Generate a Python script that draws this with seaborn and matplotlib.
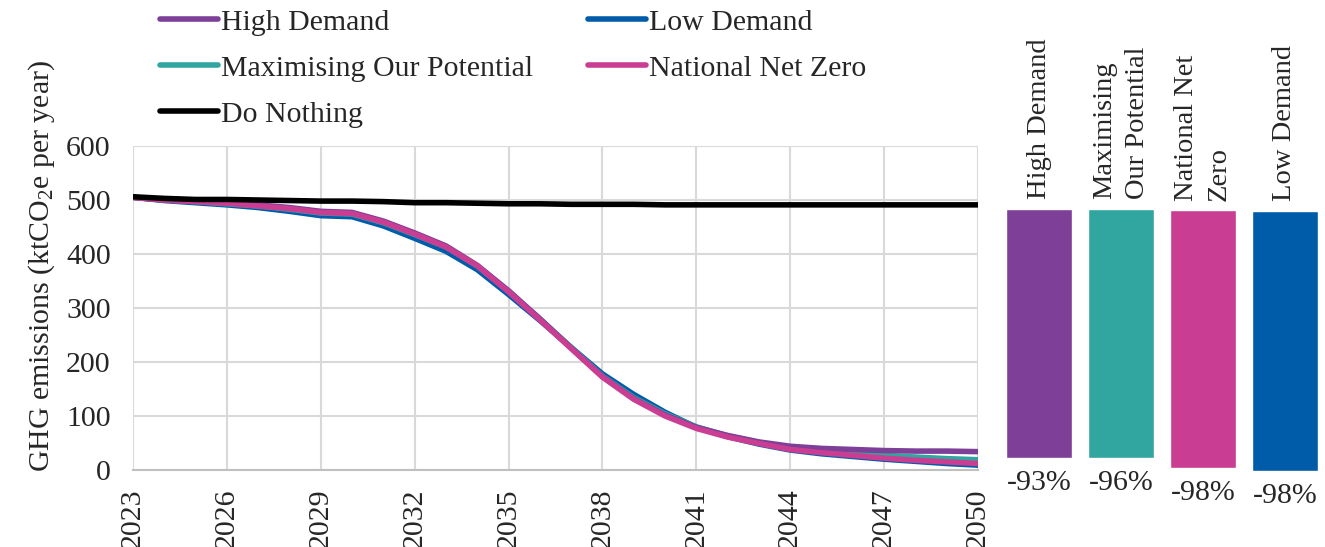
import pandas as pd
import matplotlib.pyplot as plt
import seaborn as sns

# data
years = list(range(2023, 2051))
high_demand = [505, 500, 498, 495, 491, 486, 479, 477, 461, 439, 415, 379, 332, 280,
               226, 173, 132, 102, 79, 64, 52, 44, 40, 38, 36, 35, 35, 34]
low_demand = [505, 499, 495, 491, 486, 479, 471, 469, 452, 429, 405, 371, 325, 277,
              227, 178, 140, 107, 79, 62, 48, 37, 30, 25, 20, 16, 12, 9]
max_potential = [505, 500, 497, 493, 489, 483, 476, 474, 458, 436, 413, 378, 331, 280,
                 227, 174, 134, 104, 80, 63, 51, 41, 36, 31, 27, 24, 21, 19]
net_zero = [505, 500, 497, 494, 489, 484, 477, 475, 459, 437, 413, 378, 330, 278,
            225, 172, 131, 100, 77, 61, 49, 38, 32, 27, 22, 18, 15, 12]
do_nothing = [506, 503, 501, 501, 500, 499, 498, 498, 497, 495, 495, 494, 493, 493,
              492, 492, 492, 491, 491, 491, 491, 491, 491, 491, 491, 491, 491, 491]

bar_names = ['High Demand', 'Maximising\nOur Potential', 'National Net\nZero', 'Low Demand']
bar_top = [483, 483, 481, 480]
bar_bottom = [23, 23, 4, -1]
bar_pct = ['-93%', '-96%', '-98%', '-98%']

colors = {'High Demand': '#7d3f98', 'Low Demand': '#005ca9',
          'Maximising Our Potential': '#31a59f', 'National Net Zero': '#c93e92',
          'Do Nothing': '#000000'}

df = pd.DataFrame({'Year': years, 'High Demand': high_demand, 'Low Demand': low_demand,
                   'Maximising Our Potential': max_potential,
                   'National Net Zero': net_zero, 'Do Nothing': do_nothing})
long = df.melt(id_vars='Year', var_name='Scenario', value_name='Emissions')

sns.set_style('white')
plt.rcParams['font.family'] = ['Liberation Serif', 'DejaVu Serif']
plt.rcParams['mathtext.fontset'] = 'custom'
plt.rcParams['mathtext.rm'] = 'Liberation Serif'
plt.rcParams['mathtext.it'] = 'Liberation Serif:italic'
fs = 21.5

fig = plt.figure(figsize=(13.25, 5.47), dpi=100)
W, H = 1325, 547
ax = fig.add_axes([133 / W, 1 - 470 / H, 845 / W, 324 / H])

draw_order = ['Low Demand', 'Maximising Our Potential', 'High Demand',
              'National Net Zero', 'Do Nothing']
for name in draw_order:
    sns.lineplot(data=long[long['Scenario'] == name], x='Year', y='Emissions',
                 color=colors[name], linewidth=4.0, ax=ax, label=name,
                 legend=False)

ax.set_xlim(2023, 2050)
ax.set_ylim(0, 600)
ax.set_xticks(range(2023, 2051, 3))
ax.set_yticks(range(0, 601, 100))
ax.tick_params(axis='x', labelrotation=90, labelsize=fs, length=5, color='#d0d0d0', pad=8)
ax.tick_params(axis='y', labelsize=fs, length=0, pad=16)
ax.grid(True, color='#d9d9d9', linewidth=1.5)
ax.set_axisbelow(True)
for s in ['top', 'right', 'left']:
    ax.spines[s].set_visible(False)
ax.spines['bottom'].set_color('#c0c0c0')
ax.spines['bottom'].set_linewidth(1.5)
ax.set_xlabel('')
ax.set_ylabel('GHG emissions (ktCO$_2$e per year)', fontsize=fs)
ax.yaxis.set_label_coords(-0.09, 0.63)

# legend, row-wise order: HD, LD / MOP, NNZ / DN
handles = {l.get_label(): l for l in ax.get_lines()}
leg_order = ['High Demand', 'Maximising Our Potential', 'Do Nothing',
             'Low Demand', 'National Net Zero']
fig.legend([handles[n] for n in leg_order], leg_order, loc='upper left',
           bbox_to_anchor=(160 / W, 1 - 9 / H), ncol=2, frameon=False,
           fontsize=fs, handlelength=1.94, handletextpad=0.1,
           labelspacing=0.64, columnspacing=1.85, borderpad=0, borderaxespad=0)

# bar panel
bx = fig.add_axes([998 / W, 1 - 470 / H, 328 / W, 324 / H])
bar_colors = [colors['High Demand'], colors['Maximising Our Potential'],
              colors['National Net Zero'], colors['Low Demand']]
heights = [t - b for t, b in zip(bar_top, bar_bottom)]
bx.bar(range(4), heights, bottom=bar_bottom, width=0.805, color=bar_colors, clip_on=False)
bx.set_xlim(-0.5, 3.5)
bx.set_ylim(0, 600)
bx.axis('off')
for i in range(4):
    bx.annotate(bar_names[i], (i, bar_top[i]), xytext=(0, 7), textcoords='offset points',
                rotation=90, ha='center', va='bottom', multialignment='left', fontsize=20.5,
                linespacing=1.4, annotation_clip=False)
    bx.annotate(bar_pct[i], (i, bar_bottom[i]), xytext=(0, -18), textcoords='offset points',
                ha='center', va='center', fontsize=fs, annotation_clip=False)

fig.savefig('out.png', dpi=100)
